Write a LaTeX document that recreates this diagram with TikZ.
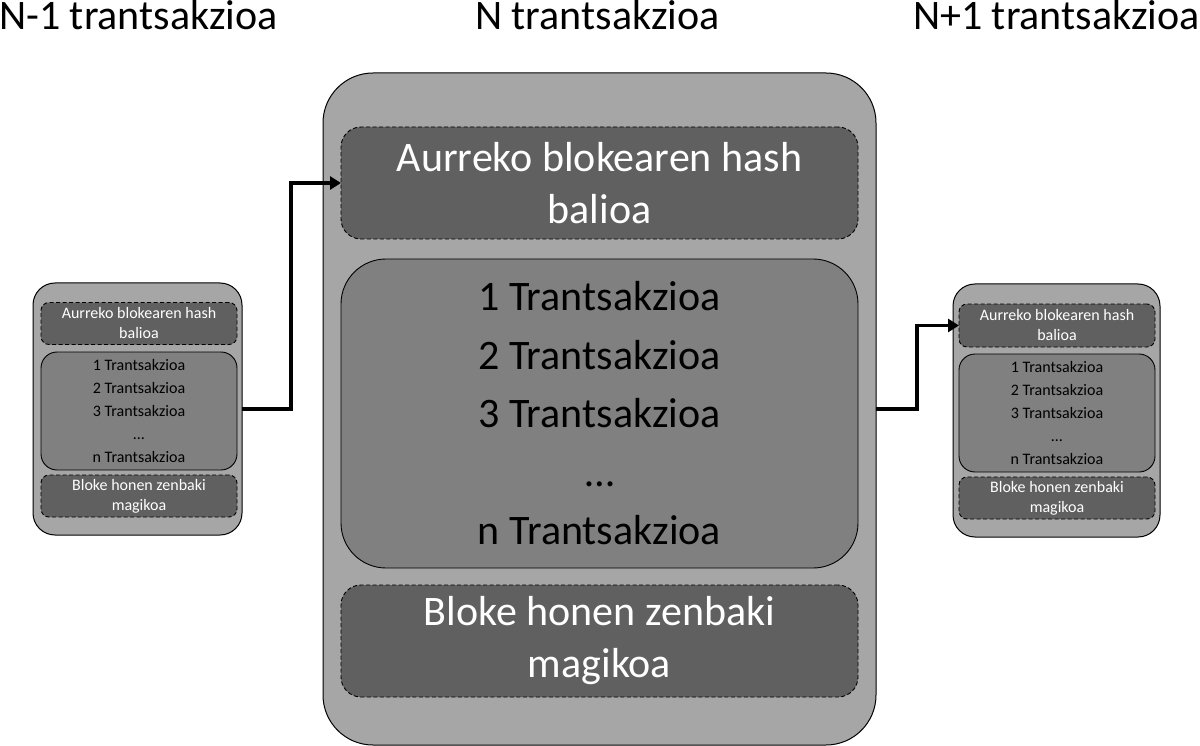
\documentclass[tikz,border=0pt]{standalone}
\usepackage{fontspec}
\setmainfont{Carlito}
\usetikzlibrary{arrows.meta}
\definecolor{outergray}{HTML}{A6A6A6}
\definecolor{darkgray}{HTML}{606060}
\definecolor{midgray}{HTML}{808080}
\tikzset{
  outerbox/.style={draw=black, line width=1pt, fill=outergray, inner sep=0pt, outer sep=0pt},
  dashbox/.style={draw=black, line width=0.9pt, dash pattern=on 4pt off 2.5pt, fill=darkgray, text=white, align=center, inner sep=0pt, outer sep=0pt},
  transbox/.style={draw=black, line width=0.9pt, fill=midgray, text=black, align=center, inner sep=0pt, outer sep=0pt},
  bigtxt/.style={font=\fontsize{42}{52}\selectfont},
  bigtrans/.style={font=\fontsize{42}{58.5}\selectfont},
  smalltxt/.style={font=\fontsize{16}{20}\selectfont},
  smalltrans/.style={font=\fontsize{16}{22.8}\selectfont},
  titletxt/.style={font=\fontsize{42}{48}\selectfont, inner sep=0pt},
  linkarrow/.style={line width=3.5pt, -{Triangle[length=11pt,width=13pt]}}
}
\begin{document}
\begin{tikzpicture}[x=1pt,y=-1pt]
\useasboundingbox (0,0) rectangle (1200,746);
% titles
\node[titletxt, anchor=base west] (t1) at (-1,30) {N-1 trantsakzioa};
\node[titletxt, anchor=base] (t2) at (597.5,30) {N trantsakzioa};
\node[titletxt, anchor=base east] (t3) at (1200,30) {N+1 trantsakzioa};

% left block
\node[outerbox, rounded corners=22pt, minimum width=209pt, minimum height=252pt] (L) at (137.5,409) {};
\node[dashbox, smalltxt, rounded corners=8pt, minimum width=196pt, minimum height=42pt] (Lh) at (139,323.5) {Aurreko blokearen hash\\balioa};
\node[transbox, smalltrans, rounded corners=16pt, minimum width=196pt, minimum height=118pt] (Lt) at (139,411) {1 Trantsakzioa\\2 Trantsakzioa\\3 Trantsakzioa\\…\\n Trantsakzioa};
\node[dashbox, smalltxt, rounded corners=8pt, minimum width=196pt, minimum height=42pt] (Lm) at (139,496) {Bloke honen zenbaki\\magikoa};

% central block
\node[outerbox, rounded corners=50pt, minimum width=553pt, minimum height=672pt] (C) at (599.5,409) {};
\node[dashbox, bigtxt, rounded corners=20pt, minimum width=517pt, minimum height=112pt] (Ch) at (599.5,183) {Aurreko blokearen hash\\balioa};
\node[transbox, bigtrans, rounded corners=45pt, minimum width=517pt, minimum height=309pt] (Ct) at (599.5,413.5) {1 Trantsakzioa\\2 Trantsakzioa\\3 Trantsakzioa\\…\\n Trantsakzioa};
\node[dashbox, bigtxt, rounded corners=20pt, minimum width=517pt, minimum height=112pt] (Cm) at (599.5,641) {Bloke honen zenbaki\\magikoa};

% right block
\node[outerbox, rounded corners=22pt, minimum width=207pt, minimum height=253pt] (R) at (1056.5,410.5) {};
\node[dashbox, smalltxt, rounded corners=8pt, minimum width=196pt, minimum height=43pt] (Rh) at (1057,325.5) {Aurreko blokearen hash\\balioa};
\node[transbox, smalltrans, rounded corners=16pt, minimum width=196pt, minimum height=118pt] (Rt) at (1057,413) {1 Trantsakzioa\\2 Trantsakzioa\\3 Trantsakzioa\\…\\n Trantsakzioa};
\node[dashbox, smalltxt, rounded corners=8pt, minimum width=196pt, minimum height=42pt] (Rm) at (1057,498) {Bloke honen zenbaki\\magikoa};

% connectors
\draw[linkarrow] (L.east) -- ++(49,0) |- (Ch.west);
\draw[linkarrow] (C.east) -- ++(41,0) |- (Rh.west);
\end{tikzpicture}
\end{document}
